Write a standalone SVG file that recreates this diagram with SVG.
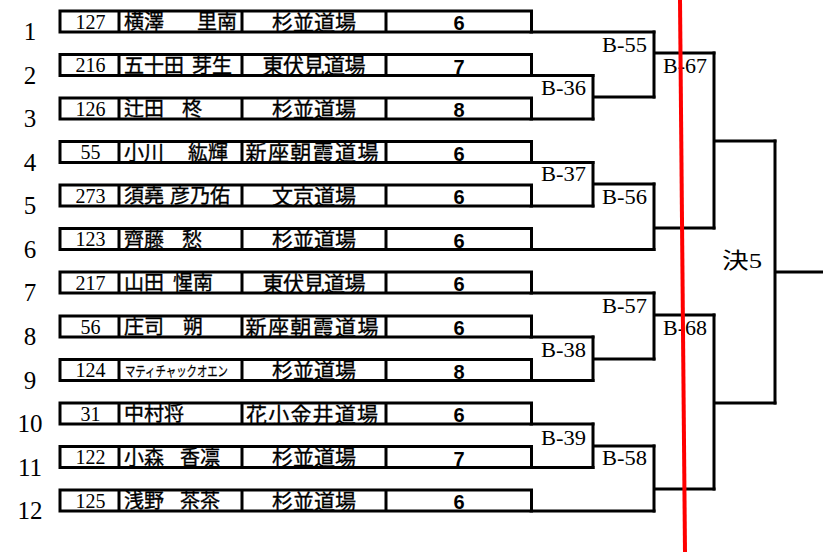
<svg xmlns="http://www.w3.org/2000/svg" width="823" height="552" viewBox="0 0 823 552">
<style>
.bg{fill:#fff}
.box{fill:#fff;stroke:#000;stroke-width:3}
.div{stroke:#000;stroke-width:3;fill:none}
.rn{font-family:"Liberation Serif","Noto Sans CJK JP",serif;font-size:25px;text-anchor:middle;fill:#000}
.no{font-family:"Liberation Serif","Noto Sans CJK JP",serif;font-size:20px;text-anchor:middle;fill:#000}
.nm{font-family:"Noto Sans CJK JP",sans-serif;font-size:20px;fill:#000;stroke:#000;stroke-width:0.35}
.kt{font-family:"Noto Sans CJK JP",sans-serif;font-size:14px;fill:#000;stroke:#000;stroke-width:0.25}
.dj{font-family:"Noto Sans CJK JP",sans-serif;font-size:21px;text-anchor:middle;fill:#000;stroke:#000;stroke-width:0.35}
.sc{font-family:"Liberation Sans Narrow","Liberation Sans",Arial,sans-serif;font-size:20px;font-weight:bold;text-anchor:middle;fill:#000}
.ln{stroke:#000;stroke-width:3;fill:none;stroke-linecap:square;stroke-linejoin:miter}
.ml{font-family:"Liberation Serif","Noto Sans CJK JP",serif;font-size:20px;fill:#000}
.mle{font-family:"Liberation Serif","Noto Sans CJK JP",serif;font-size:20px;fill:#000;text-anchor:end}
</style>
<defs>
<g id="frame">
<rect class="box" x="60" y="0" width="471.5" height="21"/>
<path class="div" d="M119 0V21M242 0V21M386 0V21"/>
</g>
</defs>
<rect class="bg" x="0" y="0" width="823" height="552"/>

<g id="connectors">
<path class="ln" d="M531 32H654M531 75.5H593M531 119H593M531 162.5H593M531 206H593M531 249.5H654M531 293H654M531 337H593M531 380.5H593M531 424H593M531 467.5H593M531 511H654"/>
<path class="ln" d="M593 75.5V119M593 97H654"/>
<path class="ln" d="M654 32V97M654 53H714"/>
<path class="ln" d="M593 162.5V206M593 184H654"/>
<path class="ln" d="M654 184V249.5M654 228H714"/>
<path class="ln" d="M714 53V228M714 141H775"/>
<path class="ln" d="M593 337V380.5M593 359H654"/>
<path class="ln" d="M654 293V359M654 315H714"/>
<path class="ln" d="M593 424V467.5M593 446H654"/>
<path class="ln" d="M654 446V511M654 489H714"/>
<path class="ln" d="M714 315V489M714 403H775"/>
<path class="ln" d="M775 141V403M775 272H823"/>
</g>

<g id="match-labels">
<text class="mle" x="647" y="52" textLength="45" lengthAdjust="spacingAndGlyphs">B-55</text>
<text class="mle" x="586" y="95" textLength="45" lengthAdjust="spacingAndGlyphs">B-36</text>
<text class="ml" x="663" y="73" textLength="44" lengthAdjust="spacingAndGlyphs">B-67</text>
<text class="mle" x="586" y="181" textLength="45" lengthAdjust="spacingAndGlyphs">B-37</text>
<text class="mle" x="647" y="204" textLength="45" lengthAdjust="spacingAndGlyphs">B-56</text>
<text class="mle" x="647" y="313" textLength="45" lengthAdjust="spacingAndGlyphs">B-57</text>
<text class="mle" x="586" y="357" textLength="45" lengthAdjust="spacingAndGlyphs">B-38</text>
<text class="ml" x="663" y="335" textLength="44" lengthAdjust="spacingAndGlyphs">B-68</text>
<text class="mle" x="586" y="445" textLength="45" lengthAdjust="spacingAndGlyphs">B-39</text>
<text class="mle" x="647" y="465" textLength="45" lengthAdjust="spacingAndGlyphs">B-58</text>
<text class="ml" x="722" y="268" style="font-size:22px" textLength="40" lengthAdjust="spacingAndGlyphs">決5</text>
</g>

<g id="entry-1" transform="translate(0,11)">
<use href="#frame"/>
<text class="rn" x="30" y="29">1</text>
<text class="no" x="90.5" y="17.5">127</text>
<text class="nm" y="18"><tspan x="124">横澤 </tspan><tspan x="197">里南</tspan></text>
<text class="dj" x="314" y="18.5" textLength="84" lengthAdjust="spacing">杉並道場</text>
<text class="sc" x="459" y="19">6</text>
</g>
<g id="entry-2" transform="translate(0,54.5)">
<use href="#frame"/>
<text class="rn" x="30" y="29">2</text>
<text class="no" x="90.5" y="17.5">216</text>
<text class="nm" y="18"><tspan x="124">五十田 </tspan><tspan x="192">芽生</tspan></text>
<text class="dj" x="314" y="18.5" textLength="103" lengthAdjust="spacing">東伏見道場</text>
<text class="sc" x="459" y="19">7</text>
</g>
<g id="entry-3" transform="translate(0,98)">
<use href="#frame"/>
<text class="rn" x="30" y="29">3</text>
<text class="no" x="90.5" y="17.5">126</text>
<text class="nm" y="18"><tspan x="124">辻田 </tspan><tspan x="182">柊</tspan></text>
<text class="dj" x="314" y="18.5" textLength="84" lengthAdjust="spacing">杉並道場</text>
<text class="sc" x="459" y="19">8</text>
</g>
<g id="entry-4" transform="translate(0,141.5)">
<use href="#frame"/>
<text class="rn" x="30" y="29">4</text>
<text class="no" x="90.5" y="17.5">55</text>
<text class="nm" y="18"><tspan x="124">小川 </tspan><tspan x="188">紘輝</tspan></text>
<text class="dj" x="312" y="18.5" textLength="133" lengthAdjust="spacing">新座朝霞道場</text>
<text class="sc" x="459" y="19">6</text>
</g>
<g id="entry-5" transform="translate(0,185)">
<use href="#frame"/>
<text class="rn" x="30" y="29">5</text>
<text class="no" x="90.5" y="17.5">273</text>
<text class="nm" y="18"><tspan x="124">須堯 </tspan><tspan x="170">彦乃佑</tspan></text>
<text class="dj" x="314" y="18.5" textLength="84" lengthAdjust="spacing">文京道場</text>
<text class="sc" x="459" y="19">6</text>
</g>
<g id="entry-6" transform="translate(0,228.5)">
<use href="#frame"/>
<text class="rn" x="30" y="29">6</text>
<text class="no" x="90.5" y="17.5">123</text>
<text class="nm" y="18"><tspan x="124">齊藤 </tspan><tspan x="182">愁</tspan></text>
<text class="dj" x="314" y="18.5" textLength="84" lengthAdjust="spacing">杉並道場</text>
<text class="sc" x="459" y="19">6</text>
</g>
<g id="entry-7" transform="translate(0,272)">
<use href="#frame"/>
<text class="rn" x="30" y="29">7</text>
<text class="no" x="90.5" y="17.5">217</text>
<text class="nm" y="18"><tspan x="124">山田 </tspan><tspan x="173">惺南</tspan></text>
<text class="dj" x="314" y="18.5" textLength="103" lengthAdjust="spacing">東伏見道場</text>
<text class="sc" x="459" y="19">6</text>
</g>
<g id="entry-8" transform="translate(0,316)">
<use href="#frame"/>
<text class="rn" x="30" y="29">8</text>
<text class="no" x="90.5" y="17.5">56</text>
<text class="nm" y="18"><tspan x="124">庄司 </tspan><tspan x="183">朔</tspan></text>
<text class="dj" x="312" y="18.5" textLength="133" lengthAdjust="spacing">新座朝霞道場</text>
<text class="sc" x="459" y="19">6</text>
</g>
<g id="entry-9" transform="translate(0,359.5)">
<use href="#frame"/>
<text class="rn" x="30" y="29">9</text>
<text class="no" x="90.5" y="17.5">124</text>
<text class="kt" x="125" y="16" textLength="103" lengthAdjust="spacingAndGlyphs">マティチャックオエン</text>
<text class="dj" x="314" y="18.5" textLength="84" lengthAdjust="spacing">杉並道場</text>
<text class="sc" x="459" y="19">8</text>
</g>
<g id="entry-10" transform="translate(0,403)">
<use href="#frame"/>
<text class="rn" x="30" y="29">10</text>
<text class="no" x="90.5" y="17.5">31</text>
<text class="nm" x="124" y="18">中村将</text>
<text class="dj" x="312" y="18.5" textLength="132" lengthAdjust="spacing">花小金井道場</text>
<text class="sc" x="459" y="19">6</text>
</g>
<g id="entry-11" transform="translate(0,446.5)">
<use href="#frame"/>
<text class="rn" x="30" y="29">11</text>
<text class="no" x="90.5" y="17.5">122</text>
<text class="nm" y="18"><tspan x="124">小森 </tspan><tspan x="180">香凛</tspan></text>
<text class="dj" x="314" y="18.5" textLength="84" lengthAdjust="spacing">杉並道場</text>
<text class="sc" x="459" y="19">7</text>
</g>
<g id="entry-12" transform="translate(0,490)">
<use href="#frame"/>
<text class="rn" x="30" y="29">12</text>
<text class="no" x="90.5" y="17.5">125</text>
<text class="nm" y="18"><tspan x="124">浅野 </tspan><tspan x="180">茶茶</tspan></text>
<text class="dj" x="314" y="18.5" textLength="84" lengthAdjust="spacing">杉並道場</text>
<text class="sc" x="459" y="19">6</text>
</g>

<line id="red-line" x1="680" y1="0" x2="685" y2="552" stroke="#ff0000" stroke-width="4"/>
</svg>
